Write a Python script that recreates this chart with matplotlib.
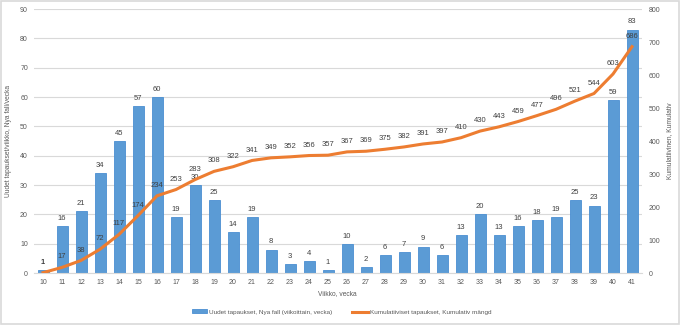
import matplotlib
matplotlib.use("Agg")
import matplotlib.pyplot as plt
from matplotlib.patches import Rectangle
import numpy as np

weeks = list(range(10, 42))
new_cases = [1, 16, 21, 34, 45, 57, 60, 19, 30, 25, 14, 19, 8, 3, 4, 1,
             10, 2, 6, 7, 9, 6, 13, 20, 13, 16, 18, 19, 25, 23, 59, 83]
cumulative = [1, 17, 38, 72, 117, 174, 234, 253, 283, 308, 322, 341, 349, 352,
              356, 357, 367, 369, 375, 382, 391, 397, 410, 430, 443, 459, 477,
              496, 521, 544, 603, 686]

txt = '#595959'
plt.rcParams['font.family'] = ['Liberation Sans', 'DejaVu Sans']
plt.rcParams['font.size'] = 5

fig = plt.figure(figsize=(6.8, 3.25), dpi=100)
fig.patches.append(Rectangle((0.002, 0.003), 0.996, 0.994, transform=fig.transFigure,
                             fill=False, edgecolor='#D9D9D9', linewidth=1.2))

ax = fig.add_axes([0.0493, 0.16, 0.8941, 0.8123])
x = np.arange(len(weeks))

bars = ax.bar(x, new_cases, width=0.58, color='#5B9BD5', edgecolor='#4A8FD2',
              linewidth=0.6, zorder=2)
for xi, v in zip(x, new_cases):
    ax.annotate(str(v), (xi, v), xytext=(0, 3), textcoords='offset points',
                ha='center', va='bottom', color='#404040', fontsize=5.5)

ax.set_xlim(-0.5, len(weeks) - 0.5)
ax.set_ylim(0, 90)
ax.set_yticks(range(0, 91, 10))
ax.set_xticks(x)
ax.set_xticklabels([str(w) for w in weeks])
ax.grid(axis='y', color='#D9D9D9', linewidth=0.8, zorder=0)
ax.set_axisbelow(True)
for s in ['top', 'right', 'left']:
    ax.spines[s].set_visible(False)
ax.spines['bottom'].set_color('#D9D9D9')
ax.tick_params(length=0, colors=txt, pad=4)
ax.set_ylabel('Uudet tapaukset/viikko, Nya fall/vecka', color=txt, fontsize=4.8,
              labelpad=6)
ax.set_xlabel('Viikko, vecka', color=txt, fontsize=4.8, labelpad=3)

ax2 = ax.twinx()
line, = ax2.plot(x, cumulative, color='#ED7D31', linewidth=2.2, zorder=3)
for xi, v in zip(x, cumulative):
    ax2.annotate(str(v), (xi, v), xytext=(0, 5), textcoords='offset points',
                 ha='center', va='bottom', color='#404040', fontsize=5.5)
ax2.set_ylim(0, 800)
ax2.set_yticks(range(0, 801, 100))
for s in ['top', 'right', 'left', 'bottom']:
    ax2.spines[s].set_visible(False)
ax2.tick_params(length=0, colors=txt, pad=5)
ax2.set_ylabel('Kumulatiivinen, Kumulativ', color=txt, fontsize=4.8, labelpad=4)

fig.legend([bars, line],
           ['Uudet tapaukset, Nya fall (viikoittain, vecka)',
            'Kumulatiiviset tapaukset, Kumulativ mängd'],
           loc='center', bbox_to_anchor=(0.502, 0.04), ncol=2, frameon=False,
           fontsize=4.6, labelcolor=txt, handlelength=2.5, handleheight=0.5,
           columnspacing=3.0, handletextpad=0.3)

fig.savefig('out.png', dpi=100)
